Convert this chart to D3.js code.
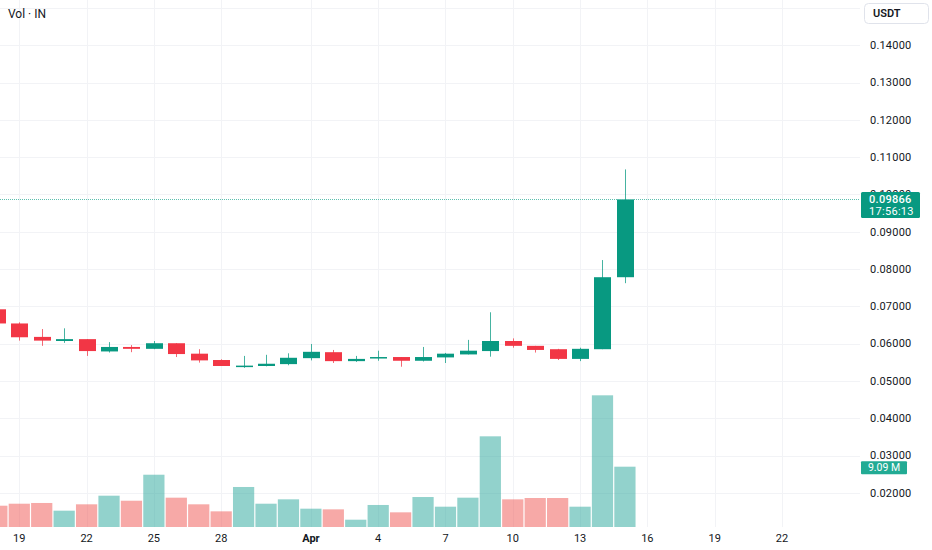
<!DOCTYPE html>
<html>
<head>
<meta charset="utf-8">
<script src="https://cdn.jsdelivr.net/npm/d3@7/dist/d3.min.js"></script>
<style>
  html, body { margin: 0; padding: 0; background: #ffffff; }
  svg { display: block; font-family: Roboto, "Noto Sans", sans-serif; }
</style>
</head>
<body>
<svg id="chart" width="932" height="550"></svg>
<script>
// ---------------- data ----------------
const dates = ["2024-03-18","2024-03-19","2024-03-20","2024-03-21","2024-03-22","2024-03-23","2024-03-24",
  "2024-03-25","2024-03-26","2024-03-27","2024-03-28","2024-03-29","2024-03-30","2024-03-31",
  "2024-04-01","2024-04-02","2024-04-03","2024-04-04","2024-04-05","2024-04-06","2024-04-07",
  "2024-04-08","2024-04-09","2024-04-10","2024-04-11","2024-04-12","2024-04-13","2024-04-14","2024-04-15"];
const open  = [0.0692,0.0654,0.0618,0.0607,0.0612,0.0579,0.0591,0.0586,0.0601,0.0573,0.0556,0.0538,0.0540,0.0545,
  0.0561,0.0577,0.0553,0.0560,0.0564,0.0554,0.0563,0.0571,0.0580,0.0607,0.0594,0.0585,0.0559,0.0585,0.0778];
const high  = [0.0698,0.0657,0.0639,0.0641,0.0612,0.0604,0.0596,0.0607,0.0601,0.0585,0.0558,0.0567,0.0570,0.0574,
  0.0599,0.0583,0.0567,0.0581,0.0564,0.0591,0.0575,0.0610,0.0684,0.0614,0.0594,0.0586,0.0589,0.0824,0.1067];
const low   = [0.0652,0.0608,0.0594,0.0602,0.0567,0.0576,0.0577,0.0585,0.0564,0.0549,0.0540,0.0535,0.0539,0.0542,
  0.0555,0.0548,0.0551,0.0554,0.0538,0.0552,0.0548,0.0571,0.0565,0.0589,0.0576,0.0556,0.0553,0.0585,0.0762];
const close = [0.0654,0.0617,0.0608,0.0612,0.0580,0.0591,0.0586,0.0601,0.0572,0.0555,0.0540,0.0541,0.0546,0.0562,
  0.0578,0.0553,0.0559,0.0564,0.0554,0.0564,0.0573,0.0581,0.0607,0.0594,0.0583,0.0559,0.0586,0.0778,0.09866];
const volume = [3.21,3.51,3.62,2.46,3.42,4.72,3.96,7.88,4.42,3.42,2.36,6.03,3.51,4.17,
  2.76,2.66,1.10,3.32,2.21,4.52,3.06,4.42,13.67,4.17,4.37,4.37,3.06,19.85,9.09]; // millions

const priceTicks = [0.02,0.03,0.04,0.05,0.06,0.07,0.08,0.09,0.10,0.11,0.12,0.13,0.14,0.15];
const priceTickLabels = ["0.02000","0.03000","0.04000","0.05000","0.06000","0.07000","0.08000",
  "0.09000","0.10000","0.11000","0.12000","0.13000","0.14000",""];
const timeTicks = ["2024-03-19","2024-03-22","2024-03-25","2024-03-28","2024-04-01","2024-04-04",
  "2024-04-07","2024-04-10","2024-04-13","2024-04-16","2024-04-19","2024-04-22"];
const timeTickLabels = ["19","22","25","28","Apr","4","7","10","13","16","19","22"];
const lastPriceLabel = "0.09866";
const countdownLabel = "17:56:13";
const lastVolumeLabel = "9.09 M";
const legendText = "Vol · IN";
const currencyText = "USDT";

// ---------------- layout ----------------
const W = 932, H = 550;
const plotW = 860, plotH = 527;
const UP = "#089981", DOWN = "#F23645";
const VUP = "rgba(38,166,154,0.5)", VDOWN = "rgba(239,83,80,0.5)";
const GRID = "#f2f3f6", TEXT = "#131722";

const parse = d3.utcParse("%Y-%m-%d");
const DAY = 864e5;
const t0 = parse("2024-03-19").getTime();
const x = d3.scaleUtc()
  .domain([new Date(t0 - 0.86 * DAY), new Date(t0 + 37.48 * DAY)])
  .range([0, plotW]);
const dayW = x(new Date(t0 + DAY)) - x(new Date(t0));

const y = d3.scaleLinear().domain([0.010834, 0.152118]).range([plotH, 0]);
const yv = d3.scaleLinear().domain([0, 79.44]).range([plotH, 0]);

const svg = d3.select("#chart");
svg.append("rect").attr("width", W).attr("height", H).attr("fill", "#fff");

const defs = svg.append("defs");
defs.append("clipPath").attr("id", "plotclip")
  .append("rect").attr("x", 0).attr("y", 0).attr("width", plotW).attr("height", plotH);

const plot = svg.append("g").attr("clip-path", "url(#plotclip)");

// grid
plot.append("g").selectAll("line").data(priceTicks).join("line")
  .attr("x1", 0).attr("x2", plotW)
  .attr("y1", d => Math.round(y(d)) + 0.5).attr("y2", d => Math.round(y(d)) + 0.5)
  .attr("stroke", GRID).attr("stroke-width", 1);
plot.append("g").selectAll("line").data(timeTicks).join("line")
  .attr("y1", 0).attr("y2", plotH)
  .attr("x1", d => Math.round(x(parse(d))) + 0.5).attr("x2", d => Math.round(x(parse(d))) + 0.5)
  .attr("stroke", GRID).attr("stroke-width", 1);

const rows = dates.map((d, i) => ({
  date: parse(d), o: open[i], h: high[i], l: low[i], c: close[i], v: volume[i], up: close[i] >= open[i]
}));

// volume bars
const vbw = dayW - 1.2;
plot.append("g").selectAll("rect").data(rows).join("rect")
  .attr("x", d => x(d.date) - vbw / 2)
  .attr("width", vbw)
  .attr("y", d => yv(d.v))
  .attr("height", d => yv(0) - yv(d.v))
  .attr("fill", d => d.up ? VUP : VDOWN);

// wicks
plot.append("g").selectAll("line").data(rows).join("line")
  .attr("x1", d => Math.round(x(d.date)) + 0.5).attr("x2", d => Math.round(x(d.date)) + 0.5)
  .attr("y1", d => y(d.h)).attr("y2", d => y(d.l))
  .attr("stroke", d => d.up ? UP : DOWN).attr("stroke-width", 1).attr("stroke-opacity", 0.75);

// bodies
const bw = Math.round(dayW * 0.75);
plot.append("g").selectAll("rect").data(rows).join("rect")
  .attr("x", d => Math.round(x(d.date)) + 0.5 - bw / 2)
  .attr("width", bw)
  .attr("y", d => y(Math.max(d.o, d.c)))
  .attr("height", d => Math.max(1.5, Math.abs(y(d.o) - y(d.c))))
  .attr("fill", d => d.up ? UP : DOWN);

// last price dotted line
const lastClose = close[close.length - 1];
plot.append("line")
  .attr("x1", 0).attr("x2", plotW)
  .attr("y1", Math.round(y(lastClose)) + 0.5).attr("y2", Math.round(y(lastClose)) + 0.5)
  .attr("stroke", "#5cbfae").attr("stroke-width", 1).attr("stroke-dasharray", "1 1");

// price axis labels
const ly = y(lastClose);
const boxTop = Math.round(ly) - 7;
defs.append("clipPath").attr("id", "axisclip")
  .append("path")
  .attr("d", `M850,0H932V${boxTop}H850Z M850,${boxTop + 26}H932V${H}H850Z`);
svg.append("g").attr("clip-path", "url(#axisclip)")
  .selectAll("text").data(priceTicks).join("text")
  .attr("x", 870).attr("y", d => y(d)).attr("dy", "0.35em")
  .attr("font-size", 11).attr("fill", TEXT).attr("letter-spacing", 0.2)
  .text((d, i) => priceTickLabels[i]);

// time axis labels
svg.append("g").selectAll("text").data(timeTicks).join("text")
  .attr("x", d => x(parse(d))).attr("y", 538).attr("dy", "0.35em")
  .attr("text-anchor", "middle").attr("font-size", 11).attr("fill", TEXT)
  .attr("font-weight", (d, i) => timeTickLabels[i] === "Apr" ? 700 : 400)
  .text((d, i) => timeTickLabels[i]);

// last price label
svg.append("rect").attr("x", 861).attr("y", boxTop).attr("width", 59).attr("height", 26)
  .attr("rx", 1.5).attr("fill", UP);
svg.append("text").attr("x", 869).attr("y", boxTop + 7).attr("dy", "0.35em")
  .attr("font-size", 11).attr("fill", "#fff").attr("font-weight", 500).attr("letter-spacing", 0.3)
  .text(lastPriceLabel);
svg.append("text").attr("x", 869).attr("y", boxTop + 19).attr("dy", "0.35em")
  .attr("font-size", 11).attr("fill", "#fff").attr("letter-spacing", 0.3).text(countdownLabel);

// last volume label
const lastVol = volume[volume.length - 1];
const vy = yv(lastVol);
svg.append("rect").attr("x", 861).attr("y", vy - 5.5).attr("width", 46).attr("height", 13)
  .attr("rx", 1).attr("fill", "#22ab94");
svg.append("text").attr("x", 884).attr("y", vy + 1).attr("dy", "0.35em").attr("text-anchor", "middle")
  .attr("font-size", 10.5).attr("fill", "#fff").text(lastVolumeLabel);

// currency button
svg.append("rect").attr("x", 864.5).attr("y", 3.5).attr("width", 64).attr("height", 20)
  .attr("rx", 4).attr("fill", "#fff").attr("stroke", "#e0e3eb");
svg.append("text").attr("x", 873).attr("y", 13.5).attr("dy", "0.35em")
  .attr("font-size", 11).attr("font-weight", 600).attr("fill", TEXT).text(currencyText);

// legend
svg.append("text").attr("x", 8).attr("y", 13.5).attr("dy", "0.35em")
  .attr("font-size", 12).attr("fill", TEXT).text(legendText);
</script>
</body>
</html>
